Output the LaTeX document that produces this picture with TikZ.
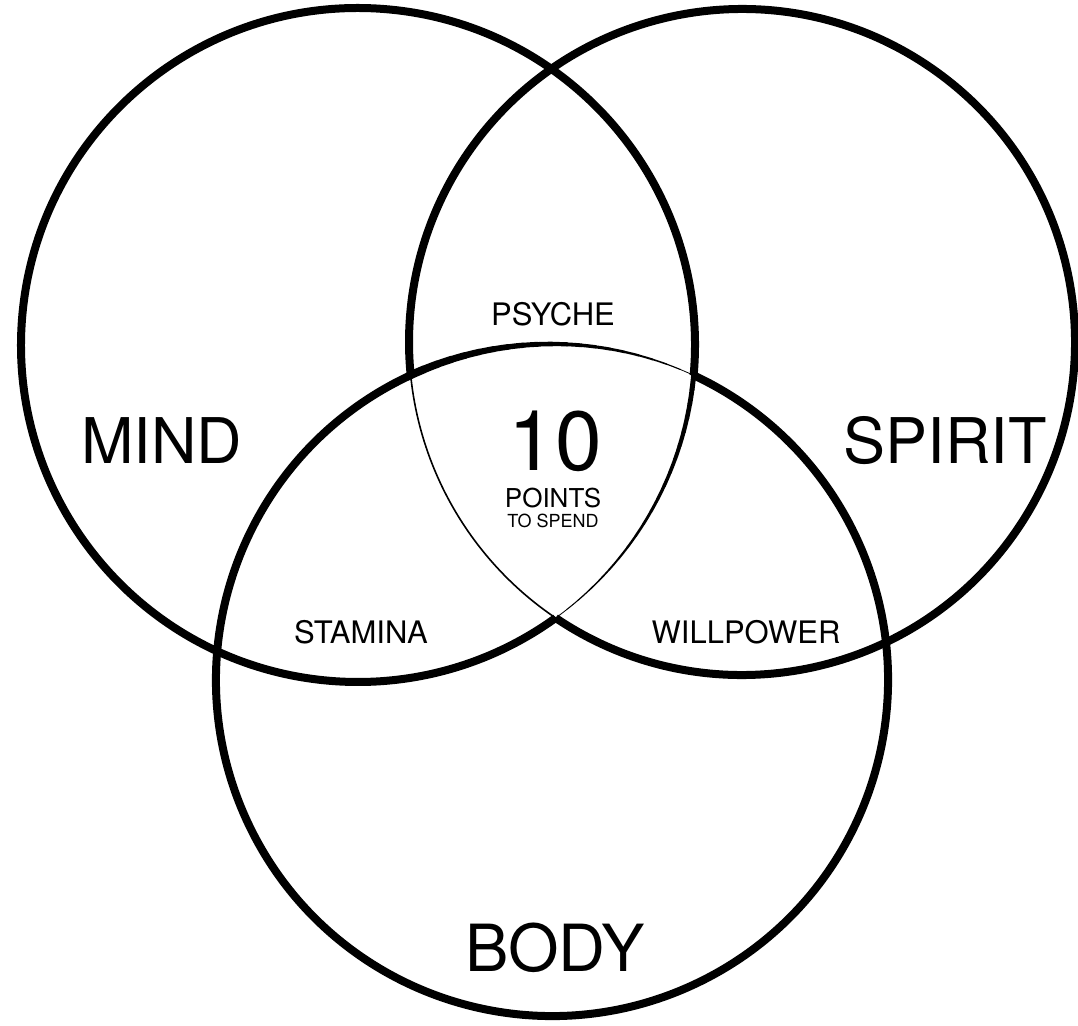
\documentclass[tikz,border=0pt]{standalone}
\usepackage{fontspec}
\setmainfont{TeX Gyre Heros}
\begin{document}
\begin{tikzpicture}[x=1pt,y=-1pt,
  ring/.style={draw=black,line width=8pt},
  big/.style={inner sep=0pt,font=\fontsize{63}{63}\selectfont},
  mid/.style={inner sep=0pt,font=\fontsize{31}{31}\selectfont}]
\useasboundingbox[fill=white] (0,0) rectangle (1078,1025);
\coordinate (cm) at (358,345);
\coordinate (cs) at (742,342);
\coordinate (cb) at (552,680);
% thick outer parts of the three circles (angles in the usual y-up sense)
\draw[ring] (cm) ++(-5.16:337pt) arc[start angle=-5.16, end angle=305.9, radius=337pt];
\draw[ring] (cs) ++(235.97:333pt) arc[start angle=235.97, end angle=545.72, radius=333pt];
\draw[ring] (cb) ++(114.88:336pt) arc[start angle=114.88, end angle=425.07, radius=336pt];
% tapered inner arcs (brush-like)
\foreach \i in {0,...,19}{
  \pgfmathsetmacro{\aa}{114.88-\i*2.4905}
  \pgfmathsetmacro{\ab}{\aa-2.4905}
  \pgfmathsetmacro{\w}{8-\i*0.38}
  \draw[line width=\w pt,line cap=round] (cb) ++(\aa:336pt) arc[start angle=\aa, end angle=\ab, radius=336pt];
  \pgfmathsetmacro{\ma}{-5.16-\i*2.447}
  \pgfmathsetmacro{\mb}{\ma-2.447}
  \pgfmathsetmacro{\mw}{5-\i*0.22}
  \draw[line width=\mw pt,line cap=round] (cm) ++(\ma:337pt) arc[start angle=\ma, end angle=\mb, radius=337pt];
}
\draw[line width=1.6pt] (cs) ++(185.72:333pt) arc[start angle=185.72, end angle=235.97, radius=333pt];
\node[big] (tmind) at (162,441) {MIND};
\node[big] (tspirit) at (945,441) {SPIRIT};
\node[big,font=\fontsize{65}{65}\selectfont] (tbody) at (555,948) {BODY};
\node[mid] (psyche) at (553,314) {PSYCHE};
\node[mid] (stamina) at (361,632) {STAMINA};
\node[mid] (will) at (746,632) {WILLPOWER};
\node[inner sep=0pt,font=\fontsize{84}{84}\selectfont] (ten) at (555,441) {10};
\node[inner sep=0pt,font=\fontsize{26}{26}\selectfont] (points) at (553,498) {POINTS};
\node[inner sep=0pt,font=\fontsize{18}{18}\selectfont] (spend) at (553,521) {TO SPEND};
\end{tikzpicture}
\end{document}
